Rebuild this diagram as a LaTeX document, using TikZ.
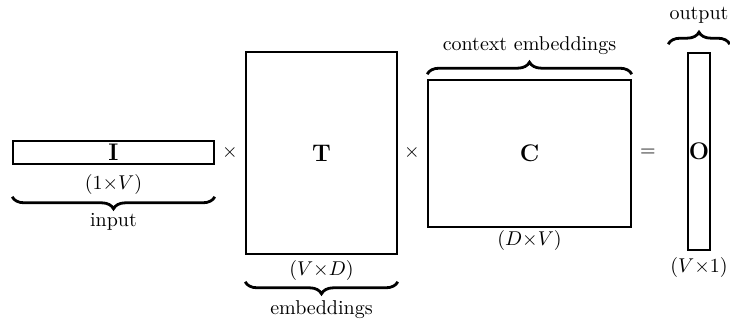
\documentclass[tikz,border=0pt]{standalone}
\usepackage{amsmath,amssymb}
\usepackage{tikz}
\usetikzlibrary{decorations.pathreplacing}

\begin{document}
\begin{tikzpicture}[x=0.5pt,y=-0.5pt,
		mat/.style={draw,thick,inner sep=0pt,font=\large},
		brc/.style={decorate,decoration={brace,amplitude=6pt},line width=1.4pt}]
		\useasboundingbox (0,0) rectangle (730,320);
		% the four matrices
		\node[mat,minimum width=100.5pt,minimum height=11.5pt] (I) at (113.5,152.5) {$\mathbf{I}$};
		\node[mat,minimum width=75.5pt,minimum height=101pt] (T) at (321.5,153) {$\mathbf{T}$};
		\node[mat,minimum width=101.5pt,minimum height=73.5pt] (C) at (529.5,153.5) {$\mathbf{C}$};
		\node[mat,minimum width=11pt,minimum height=98.5pt] (O) at (699,151.5) {$\mathbf{O}$};
		% operators
		\node (times1) at (230,153) {$\times$};
		\node (times2) at (412,153) {$\times$};
		\node (eq) at (648,153) {$=$};
		% sizes
		\node (sizeI) at (113.5,185) {$(1{\times}V)$};
		\node (sizeT) at (321.5,271) {$(V{\times}D)$};
		\node (sizeC) at (529.5,241) {$(D{\times}V)$};
		\node (sizeO) at (699,268) {$(V{\times}1)$};
		% braces and their names
		\draw[brc,decoration={mirror}] ([yshift=-16pt]I.south west) -- ([yshift=-16pt]I.south east);
		\node (input) at (113.5,222) {input};
		\draw[brc,decoration={mirror}] ([yshift=-13.5pt]T.south west) -- ([yshift=-13.5pt]T.south east);
		\node (embed) at (321.5,310) {embeddings};
		\draw[brc] ([yshift=2.5pt]C.north west) -- ([yshift=2.5pt]C.north east);
		\node (context) at (529.5,46) {context embeddings};
		\draw[brc] ([xshift=-9.5pt,yshift=4pt]O.north west) -- ([xshift=9.5pt,yshift=4pt]O.north east);
		\node (output) at (699,15) {output};
	\end{tikzpicture}
\end{document}
